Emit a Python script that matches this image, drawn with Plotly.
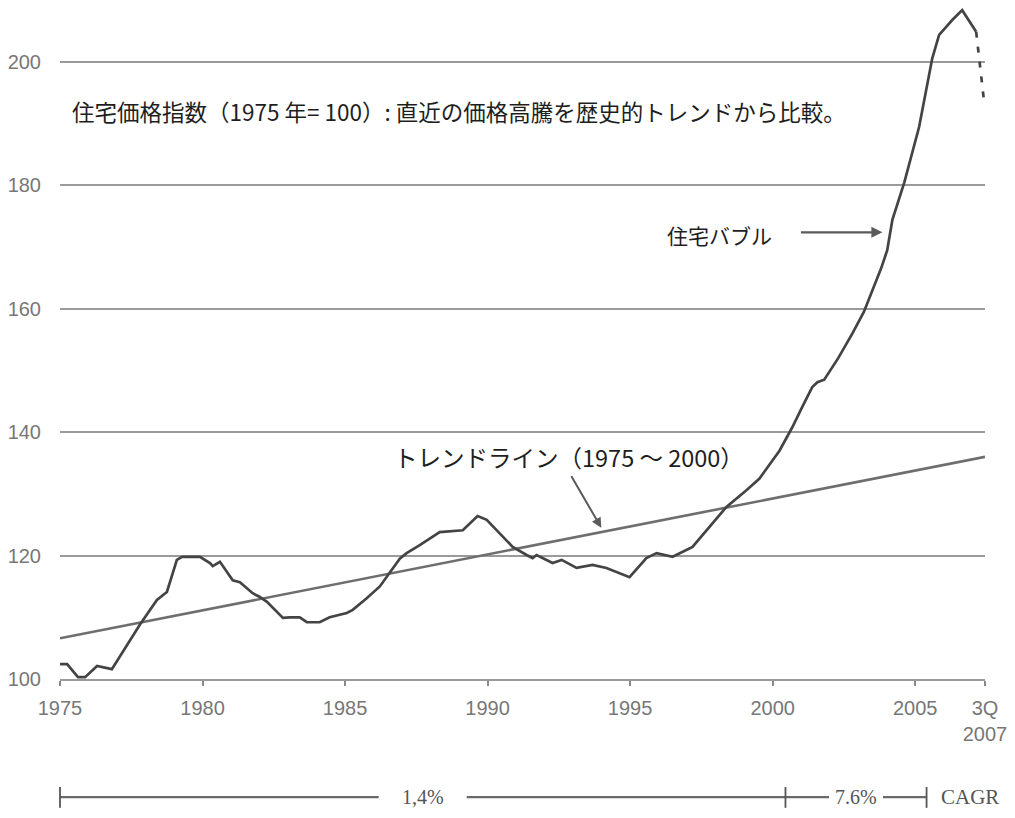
import plotly.graph_objects as go

# ---- data ----
years = [1975.00, 1975.25, 1975.63, 1975.88, 1976.30, 1976.58, 1976.82, 1977.80, 1978.40, 1978.75,
         1979.10, 1979.28, 1979.91, 1980.26, 1980.36, 1980.61, 1981.06, 1981.31, 1981.76, 1982.01,
         1982.26, 1982.82, 1983.06, 1983.41, 1983.66, 1984.11, 1984.46, 1985.06, 1985.27, 1985.76,
         1986.22, 1986.92, 1987.16, 1987.62, 1988.32, 1989.13, 1989.65, 1989.97, 1990.88, 1991.37,
         1991.58, 1991.72, 1992.28, 1992.60, 1993.12, 1993.68, 1994.17, 1994.98, 1995.57, 1995.93,
         1996.49, 1997.19, 1997.89, 1998.38, 1999.08, 1999.54, 2000.24, 2000.69, 2001.04, 2001.39,
         2001.57, 2001.81, 2002.30, 2002.80, 2003.20, 2003.46, 2003.64, 2003.81, 2004.02, 2004.20,
         2004.62, 2005.14, 2005.60, 2005.84, 2006.09, 2006.30, 2006.65, 2007.14]
index = [102.4, 102.4, 100.3, 100.3, 102.1, 101.8, 101.6, 108.8, 112.8, 114.1,
         119.3, 119.8, 119.8, 118.8, 118.3, 119.0, 116.0, 115.7, 113.9, 113.3,
         112.5, 109.9, 110.0, 110.0, 109.2, 109.2, 110.0, 110.7, 111.2, 113.1,
         115.0, 119.5, 120.4, 121.7, 123.8, 124.1, 126.4, 125.8, 121.4, 120.1,
         119.6, 120.1, 118.8, 119.3, 118.0, 118.5, 118.0, 116.5, 119.6, 120.4,
         119.8, 121.4, 125.3, 127.9, 130.6, 132.5, 137.0, 140.8, 144.1, 147.3,
         148.1, 148.5, 152.0, 156.0, 159.5, 162.6, 164.7, 166.6, 169.5, 174.4,
         180.5, 189.5, 200.6, 204.4, 205.7, 206.8, 208.4, 204.9]

proj_years = [2007.14, 2007.42]
proj_index = [204.9, 193.5]

trend_years = [1975.0, 2007.45]
trend_index = [106.6, 136.0]

tick_vals = [1975, 1980, 1985, 1990, 1995, 2000, 2005, 2007.45]
tick_text = ["1975", "1980", "1985", "1990", "1995", "2000", "2005", "3Q<br>2007"]
y_ticks = [100, 120, 140, 160, 180, 200]

cagr_bounds = [1975.0, 2000.45, 2005.4]
cagr_labels = ["1,4%", "7.6%"]

X_RANGE = [1975, 2007.45]
Y_RANGE = [100, 208.75]

LINE_DARK = "#444444"
LINE_TREND = "#6e6e6e"
GRID = "#9a9a9a"
JP_FONT = "Noto Sans CJK JP"

fig = go.Figure()

fig.add_trace(go.Scatter(x=trend_years, y=trend_index, mode="lines",
                         line=dict(color=LINE_TREND, width=2.6), hoverinfo="skip"))
fig.add_trace(go.Scatter(x=years, y=index, mode="lines",
                         line=dict(color=LINE_DARK, width=2.7), hoverinfo="skip"))
fig.add_trace(go.Scatter(x=proj_years, y=proj_index, mode="lines",
                         line=dict(color=LINE_DARK, width=2.7, dash="6px,9px"), hoverinfo="skip"))

# titles / labels
fig.add_annotation(x=1975.35, y=192.0, xref="x", yref="y", xanchor="left", yanchor="middle",
                   text="住宅価格指数（1975 年= 100）: 直近の価格高騰を歴史的トレンドから比較。",
                   showarrow=False, font=dict(family=JP_FONT, size=22.5, color="#1e1e1e"))
fig.add_annotation(x=1998.12, y=172.0, xref="x", yref="y", xanchor="center", yanchor="middle",
                   text="住宅バブル", showarrow=False,
                   font=dict(family=JP_FONT, size=21, color="#1e1e1e"))
fig.add_annotation(x=2003.85, y=172.4, ax=2000.94, ay=172.4, xref="x", yref="y",
                   axref="x", ayref="y", text="", showarrow=True, arrowhead=2,
                   arrowsize=1.0, arrowwidth=2.2, arrowcolor="#5a5a5a")
fig.add_annotation(x=1992.85, y=136.0, xref="x", yref="y", xanchor="center", yanchor="middle",
                   text="トレンドライン（1975 ～ 2000）", showarrow=False,
                   font=dict(family=JP_FONT, size=23.5, color="#1e1e1e"))
fig.add_annotation(x=1993.99, y=124.5, ax=1992.91, ay=133.1, xref="x", yref="y",
                   axref="x", ayref="y", text="", showarrow=True, arrowhead=2,
                   arrowsize=1.0, arrowwidth=2.0, arrowcolor="#5a5a5a")

# CAGR bar beneath the axis
def xp(yr):
    return (yr - X_RANGE[0]) / (X_RANGE[1] - X_RANGE[0])

BAR_Y = -0.176
TICK_Y0, TICK_Y1 = -0.161, -0.192
gaps = [44, 27]  # half-width of the text gap, px
plot_w = 1015 - 52 - 38
shapes = []
for i in range(2):
    a, b = cagr_bounds[i], cagr_bounds[i + 1]
    mid = (a + b) / 2
    g = gaps[i] / plot_w
    shapes.append(dict(type="line", xref="paper", yref="paper", x0=xp(a), x1=xp(mid) - g,
                       y0=BAR_Y, y1=BAR_Y, line=dict(color="#6a6a6a", width=2.4)))
    shapes.append(dict(type="line", xref="paper", yref="paper", x0=xp(mid) + g, x1=xp(b),
                       y0=BAR_Y, y1=BAR_Y, line=dict(color="#6a6a6a", width=2.4)))
    fig.add_annotation(x=xp(mid), y=BAR_Y, xref="paper", yref="paper", text=cagr_labels[i],
                       showarrow=False, xanchor="center", yanchor="middle",
                       font=dict(family="Liberation Serif", size=20, color="#555555"))
for b in cagr_bounds:
    shapes.append(dict(type="line", xref="paper", yref="paper", x0=xp(b), x1=xp(b),
                       y0=TICK_Y0, y1=TICK_Y1, line=dict(color="#555555", width=1.8)))
fig.add_annotation(x=xp(2005.4) + 12 / plot_w, y=BAR_Y, xref="paper", yref="paper", text="CAGR",
                   showarrow=False, xanchor="left", yanchor="middle",
                   font=dict(family="Liberation Serif", size=21, color="#555555"))

fig.update_layout(
    width=1015, height=818,
    margin=dict(l=52, r=38, t=0, b=147),
    paper_bgcolor="white", plot_bgcolor="white",
    showlegend=False,
    shapes=shapes,
    xaxis=dict(range=X_RANGE, tickmode="array", tickvals=tick_vals, ticktext=tick_text,
               showgrid=False, zeroline=False, showline=True, linecolor=GRID, linewidth=2,
               ticks="outside", ticklen=5, tickcolor="#888888", tickwidth=1.5,
               ticklabelstandoff=5,
               tickfont=dict(family="Liberation Sans, Arial", size=20, color="#777777")),
    yaxis=dict(range=Y_RANGE, tickmode="array", tickvals=y_ticks,
               showgrid=True, gridcolor=GRID, gridwidth=2, zeroline=False, showline=False,
               ticks="outside", ticklen=14, tickcolor="rgba(0,0,0,0)",
               tickfont=dict(family="Liberation Sans, Arial", size=20, color="#777777")),
)

fig.write_html("out.html")
